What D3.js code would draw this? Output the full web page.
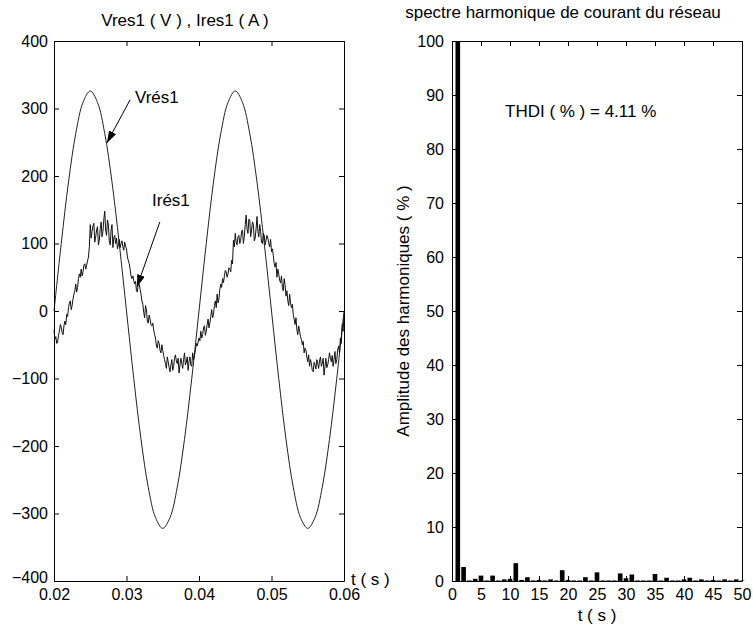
<!DOCTYPE html>
<html>
<head>
<meta charset="utf-8">
<script src="https://cdn.jsdelivr.net/npm/d3@7"></script>
<style>
  html, body { margin: 0; padding: 0; background: #fff; }
  svg text { font-family: "Liberation Sans", Arial, Helvetica, sans-serif; fill: #000; }
</style>
</head>
<body>
<svg id="fig" width="753" height="630"></svg>
<script>
// ---- waveform data (grid voltage and grid current, 0.02 s .. 0.06 s) ----
const voltStart = 0.02, voltStep = 0.001;
const vres1 = [
  0, 100, 191, 263, 309, 326, 309, 263, 191, 100,
  0, -100, -190, -261, -306, -322, -306, -261, -190, -100,
  0, 100, 191, 263, 309, 326, 309, 263, 191, 100,
  0, -100, -190, -261, -306, -322, -306, -261, -190, -100,
  0
];

const currStart = 0.02, currStep = 0.000125;
const ires1 = [
  -28, -42, -38, -48, -46, -36, -30, -20, -24, -32,
  -35, -22, -15, -20, -5, -8, 5, 12, 15, 2,
  8, 18, 25, 30, 40, 28, 35, 48, 55, 50,
  62, 52, 58, 68, 70, 62, 68, 74, 80, 95,
  128, 108, 118, 126, 130, 102, 110, 120, 125, 98,
  105, 122, 132, 110, 118, 136, 148, 120, 112, 135,
  128, 104, 98, 120, 128, 94, 108, 112, 100, 108,
  92, 98, 106, 94, 100, 104, 95, 90, 102, 96,
  92, 80, 75, 70, 62, 52, 48, 52, 45, 40,
  44, 30, 28, 42, 40, 32, 25, 15, 10, -2,
  -10, 8, 2, -15, -18, -6, -12, -20, -22, -18,
  -28, -35, -40, -52, -55, -44, -48, -58, -62, -50,
  -58, -66, -72, -78, -85, -68, -75, -84, -90, -80,
  -72, -88, -82, -70, -65, -74, -78, -70, -92, -80,
  -70, -78, -85, -72, -62, -80, -76, -68, -88, -75,
  -68, -80, -82, -62, -72, -66, -58, -48, -52, -46,
  -40, -44, -30, -40, -35, -25, -22, -36, -30, -20,
  -12, -25, -18, -8, 2, -10, -5, 8, 15, 5,
  25, 12, 18, 32, 40, 35, 48, 42, 52, 60,
  58, 50, 55, 64, 62, 58, 75, 70, 105, 95,
  115, 102, 98, 110, 112, 100, 105, 118, 120, 100,
  110, 128, 142, 122, 115, 136, 135, 110, 120, 132,
  128, 104, 108, 122, 140, 118, 110, 128, 118, 102,
  100, 115, 112, 98, 105, 112, 108, 100, 95, 106,
  88, 92, 82, 70, 65, 72, 50, 62, 55, 45,
  42, 52, 35, 30, 48, 38, 22, 30, 15, 8,
  25, 12, 5, 10, -5, -12, -20, -10, -28, -35,
  -22, -30, -38, -42, -50, -45, -62, -55, -58, -68,
  -75, -65, -82, -72, -78, -88, -90, -76, -80, -86,
  -72, -78, -85, -74, -68, -82, -78, -70, -95, -82,
  -70, -84, -80, -72, -62, -70, -75, -66, -82, -72,
  -60, -78, -72, -58, -52, -62, -40, -48, -20, -30,
  -5
];

const timeTicks = [0.02, 0.03, 0.04, 0.05, 0.06];
const waveTicks = [-400, -300, -200, -100, 0, 100, 200, 300, 400];

// ---- harmonic spectrum of the grid current (% of fundamental) ----
const harmonicOrder = d3.range(1, 51);
const harmonicAmp = [
  100, 2.6, 0.1, 0.4, 1.0, 0.1, 1.0, 0.1, 0.3, 0.4,
  3.3, 0.2, 0.7, 0.1, 0.2, 0.1, 0.3, 0.1, 2.0, 0.2,
  0.1, 0.1, 0.7, 0.1, 1.6, 0.1, 0.1, 0.1, 1.4, 0.5,
  1.2, 0.1, 0.1, 0.1, 1.3, 0.1, 0.6, 0.1, 0.1, 0.3,
  0.6, 0.1, 0.3, 0.1, 0.2, 0.1, 0.3, 0.1, 0.3, 0.1
];
const orderTicks = [0, 5, 10, 15, 20, 25, 30, 35, 40, 45, 50];
const ampTicks = [0, 10, 20, 30, 40, 50, 60, 70, 80, 90, 100];
const thdiText = "THDI ( % ) = 4.11 %";

// ---- layout ----
const svg = d3.select("#fig");
const FS = 16, FT = 17;
const plotTop = 41, plotBottom = 581;
const left = { x0: 54, x1: 344 };
const right = { x0: 452, x1: 742 };
const TICK = 5;

function boxAxes(g, x, y, xTicks, yTicks, xFmt, yFmt, yPad) {
  const xr = x.range(), yr = y.range();
  // tick marks pointing inward on all four sides
  g.append("g").attr("transform", `translate(0,${yr[0]})`)
    .call(d3.axisBottom(x).tickValues(xTicks).tickSizeInner(-TICK).tickSizeOuter(0)
      .tickPadding(8).tickFormat(xFmt));
  g.append("g").attr("transform", `translate(0,${yr[1]})`)
    .call(d3.axisTop(x).tickValues(xTicks).tickSizeInner(-TICK).tickSizeOuter(0).tickFormat(""));
  g.append("g").attr("transform", `translate(${xr[0]},0)`)
    .call(d3.axisLeft(y).tickValues(yTicks).tickSizeInner(-TICK).tickSizeOuter(0)
      .tickPadding(yPad).tickFormat(yFmt));
  g.append("g").attr("transform", `translate(${xr[1]},0)`)
    .call(d3.axisRight(y).tickValues(yTicks).tickSizeInner(-TICK).tickSizeOuter(0).tickFormat(""));
  g.selectAll(".domain").attr("stroke", "#000").attr("stroke-width", 1);
  g.selectAll(".tick line").attr("stroke", "#000");
  g.selectAll(".tick text").style("font-size", FS + "px")
    .style("font-family", '"Liberation Sans", Arial, sans-serif').attr("fill", "#000");
}

// ---- left panel: voltage and current waveforms ----
const gL = svg.append("g");
const xL = d3.scaleLinear().domain([0.02, 0.06]).range([left.x0, left.x1]);
const yL = d3.scaleLinear().domain([-400, 400]).range([plotBottom, plotTop]);

const voltPts = vres1.map((v, i) => [voltStart + i * voltStep, v]);
const currPts = ires1.map((v, i) => [currStart + i * currStep, v]);

gL.append("path").datum(voltPts)
  .attr("fill", "none").attr("stroke", "#222").attr("stroke-width", 1)
  .attr("d", d3.line().x(d => xL(d[0])).y(d => yL(d[1])).curve(d3.curveCatmullRom.alpha(0.5)));
gL.append("path").datum(currPts)
  .attr("fill", "none").attr("stroke", "#111").attr("stroke-width", 1)
  .attr("d", d3.line().x(d => xL(d[0])).y(d => yL(d[1])));

boxAxes(gL, xL, yL, timeTicks, waveTicks, d3.format(".2f"), d3.format("d"), 6);

// the lowest y label sits slightly higher so it clears the first time label
gL.selectAll(".tick text").filter(d => d === -400).attr("dy", "0.1em");

gL.append("text").attr("x", 185).attr("y", 26)
  .attr("text-anchor", "middle").style("font-size", FT + "px").text("Vres1 ( V ) , Ires1 ( A )");
gL.append("text").attr("x", left.x1 + 7).attr("y", plotBottom + 4)
  .style("font-size", FT + "px").text("t ( s )");

// arrow annotations
svg.append("defs").append("marker").attr("id", "head")
  .attr("viewBox", "0 0 12 8").attr("refX", 12).attr("refY", 4)
  .attr("markerWidth", 12).attr("markerHeight", 8).attr("markerUnits", "userSpaceOnUse")
  .attr("orient", "auto")
  .append("path").attr("d", "M0,0 L12,4 L0,8 Z").attr("fill", "#000");

function annotate(label, tx, ty, fromT, fromV, toT, toV) {
  gL.append("text").attr("x", tx).attr("y", ty).style("font-size", FT + "px").text(label);
  gL.append("line")
    .attr("x1", xL(fromT)).attr("y1", yL(fromV)).attr("x2", xL(toT)).attr("y2", yL(toV))
    .attr("stroke", "#000").attr("stroke-width", 1).attr("marker-end", "url(#head)");
}
annotate("Vrés1", 135, 103, 0.0305, 313, 0.0273, 249);
annotate("Irés1", 152, 206, 0.0346, 132, 0.03145, 36);

// ---- right panel: harmonic spectrum ----
const gR = svg.append("g");
const xR = d3.scaleLinear().domain([0, 50]).range([right.x0, right.x1]);
const yR = d3.scaleLinear().domain([0, 100]).range([plotBottom, plotTop]);
const barW = 0.8;

gR.selectAll("rect.bar").data(harmonicOrder.map((h, i) => [h, harmonicAmp[i]]))
  .join("rect").attr("class", "bar")
  .attr("x", d => xR(d[0] - barW / 2))
  .attr("width", d => xR(barW) - xR(0))
  .attr("y", d => yR(d[1]))
  .attr("height", d => yR(0) - yR(d[1]))
  .attr("fill", "#000");

boxAxes(gR, xR, yR, orderTicks, ampTicks, d3.format("d"), d3.format("d"), 8);

gR.append("text").attr("x", 563).attr("y", 18).attr("text-anchor", "middle")
  .style("font-size", FT + "px").text("spectre harmonique de courant du réseau");
gR.append("text").attr("x", (right.x0 + right.x1) / 2).attr("y", 621).attr("text-anchor", "middle")
  .style("font-size", FT + "px").text("t ( s )");
gR.append("text").attr("transform", `translate(409,${(plotTop + plotBottom) / 2}) rotate(-90)`)
  .attr("text-anchor", "middle").style("font-size", FT + "px").text("Amplitude des harmoniques ( % )");
gR.append("text").attr("x", 505).attr("y", 117).style("font-size", FT + "px").text(thdiText);
</script>
</body>
</html>
